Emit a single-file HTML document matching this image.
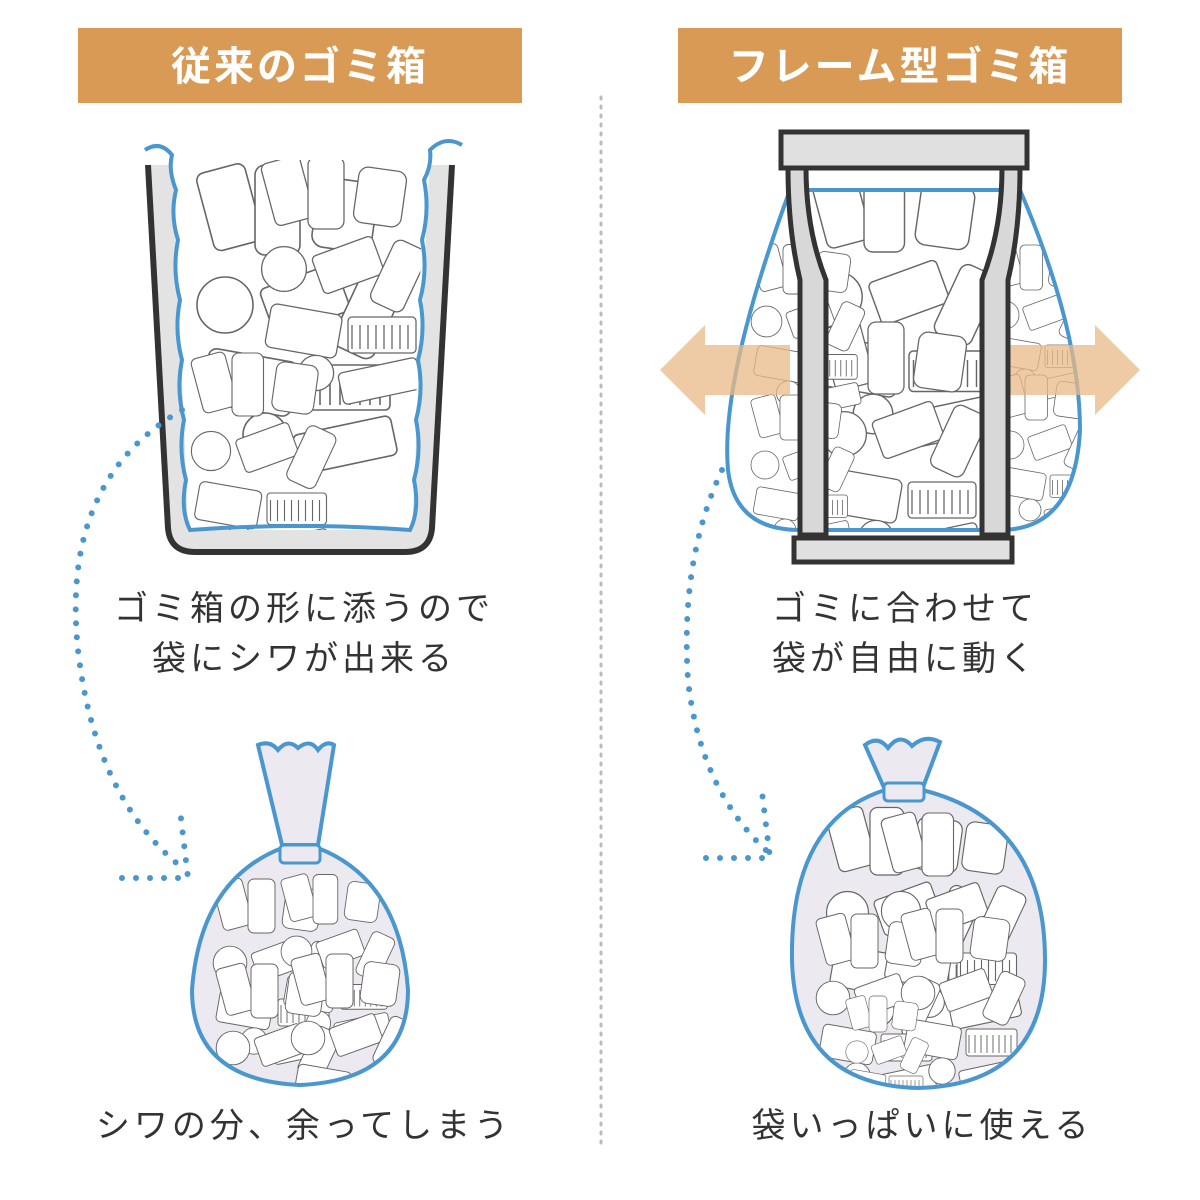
<!DOCTYPE html>
<html><head><meta charset="utf-8"><style>
html,body{margin:0;padding:0;background:#fff;}
svg{display:block;}
text{font-family:"Liberation Sans","Noto Sans CJK JP",sans-serif;}
</style></head><body>
<svg width="1200" height="1200" viewBox="0 0 1200 1200" xmlns="http://www.w3.org/2000/svg">
<defs>
<g id="trash" fill="#fff" stroke="#666" stroke-width="1.6">
  <rect x="0" y="0" width="50" height="80" rx="8" transform="rotate(-15)"/>
  <rect x="60" y="-10" width="45" height="90" rx="10"/>
  <rect x="120" y="5" width="60" height="70" rx="12" transform="rotate(8 150 40)"/>
  <circle cx="30" cy="130" r="28"/>
  <rect x="70" y="100" width="80" height="50" rx="6" transform="rotate(-20 110 125)"/>
  <rect x="150" y="95" width="45" height="85" rx="10" transform="rotate(25 170 140)"/>
  <rect x="10" y="180" width="90" height="55" rx="8" transform="rotate(10 55 205)"/>
  <rect x="110" y="190" width="85" height="45" rx="5"/>
  <path d="M115 200 v30 M125 200 v30 M135 200 v30 M145 200 v30 M155 200 v30 M165 200 v30 M175 200 v30 M185 200 v30"/>
  <circle cx="70" cy="260" r="22"/>
  <rect x="100" y="250" width="100" height="40" rx="6" transform="rotate(-12 150 270)"/>
</g>
<clipPath id="cl1"><path d="M176 160 L188 530 L412 530 L424 160 Z"/></clipPath>
<clipPath id="cl2"><path d="M282 848 Q200 880 192 990 Q192 1080 300 1085 Q408 1080 408 990 Q400 880 318 848 Z"/></clipPath>
<clipPath id="cl3"><path d="M790 190 Q720 380 728 470 Q735 530 800 530 L1000 530 Q1075 530 1080 430 Q1080 330 1020 190 Z"/></clipPath>
<clipPath id="cl4"><path d="M885 790 Q790 820 792 960 Q795 1085 918 1088 Q1045 1085 1045 960 Q1045 820 922 790 Z"/></clipPath>
</defs>

<rect x="78" y="28" width="444" height="75" fill="#D99A55"/>
<text x="300" y="80" font-size="40" font-weight="bold" fill="#fff" text-anchor="middle" letter-spacing="3">従来のゴミ箱</text>
<rect x="678" y="28" width="444" height="75" fill="#D99A55"/>
<text x="900" y="80" font-size="40" font-weight="bold" fill="#fff" text-anchor="middle" letter-spacing="3">フレーム型ゴミ箱</text>

<line x1="601" y1="97" x2="601" y2="1145" stroke="#bbb" stroke-width="3" stroke-dasharray="2 7" stroke-linecap="round"/>

<!-- left bin -->
<path d="M148 165 L168 528 Q170 552 195 552 L405 552 Q430 552 432 528 L452 165" fill="#e3e3e3" stroke="#333" stroke-width="6"/>
<path d="M172 155 L178 300 L184 420 L188 530 L412 530 L418 400 L424 280 L430 150 Z" fill="#fff"/>
<g clip-path="url(#cl1)">
<g transform="translate(195 175)"><use href="#trash"/></g>
<g transform="translate(260 165) scale(0.8)"><use href="#trash"/></g>
<g transform="translate(190 360) scale(0.7)"><use href="#trash"/></g>
</g>
<path d="M145 150 Q160 140 172 155 Q168 170 176 190 Q170 215 178 240 Q172 270 180 300 Q174 330 182 360 Q176 390 184 420 Q178 450 186 480 Q180 510 190 530 Q300 522 410 530 Q420 510 414 480 Q422 450 416 420 Q424 390 418 360 Q426 330 420 300 Q428 270 422 240 Q430 210 424 180 Q432 165 430 150 Q445 135 462 145" fill="none" stroke="#4a97cf" stroke-width="4"/>

<text x="304" y="620" font-size="34" fill="#333" text-anchor="middle" letter-spacing="4">ゴミ箱の形に添うので</text>
<text x="304" y="670" font-size="34" fill="#333" text-anchor="middle" letter-spacing="4">袋にシワが出来る</text>

<path d="M182 410 Q60 480 78 650 Q95 800 185 870" fill="none" stroke="#4a97cf" stroke-width="6" stroke-dasharray="0 14" stroke-linecap="round"/>
<path d="M122 878 L188 878 L180 810" fill="none" stroke="#4a97cf" stroke-width="6" stroke-dasharray="0 14" stroke-linecap="round"/>

<!-- left bag -->
<path d="M258 745 Q270 740 278 750 Q288 738 298 748 Q310 738 318 750 Q326 740 334 745 L318 845 L282 845 Z" fill="#ece9f0" stroke="#4a97cf" stroke-width="4"/>
<path d="M282 848 Q200 880 192 990 Q192 1080 300 1085 Q408 1080 408 990 Q400 880 318 848 Z" fill="#ece9f0"/>
<g clip-path="url(#cl2)">
<g transform="translate(212 885) scale(0.6)"><use href="#trash"/></g>
<g transform="translate(280 880) scale(0.55)"><use href="#trash"/></g>
<g transform="translate(215 970) scale(0.6)"><use href="#trash"/></g>
<g transform="translate(290 960) scale(0.6)"><use href="#trash"/></g>
</g>
<path d="M282 848 Q200 880 192 990 Q192 1080 300 1085 Q408 1080 408 990 Q400 880 318 848 Z" fill="none" stroke="#4a97cf" stroke-width="4"/>
<rect x="280" y="845" width="40" height="18" rx="4" fill="#ece9f0" stroke="#4a97cf" stroke-width="3"/>
<text x="304" y="1137" font-size="34" fill="#333" text-anchor="middle" letter-spacing="4">シワの分、余ってしまう</text>

<!-- right bin -->
<path d="M790 190 Q720 380 728 470 Q735 530 800 530 L1000 530 Q1075 530 1080 430 Q1080 330 1020 190 Z" fill="#fff"/>
<g clip-path="url(#cl3)">
<g transform="translate(810 180) scale(0.9)"><use href="#trash"/></g>
<g transform="translate(820 330) scale(0.8)"><use href="#trash"/></g>
<g transform="translate(750 250) scale(0.55)"><use href="#trash"/></g>
<g transform="translate(990 250) scale(0.5)"><use href="#trash"/></g>
<g transform="translate(750 400) scale(0.5)"><use href="#trash"/></g>
<g transform="translate(995 380) scale(0.5)"><use href="#trash"/></g>
</g>
<path d="M790 190 Q720 380 728 470 Q735 530 800 530 L1000 530 Q1075 530 1080 430 Q1080 330 1020 190 Z" fill="none" stroke="#4a97cf" stroke-width="4"/>
<path d="M660 370 L705 325 L705 345 L790 345 L790 395 L705 395 L705 415 Z" fill="#e8b985" opacity="0.75"/>
<path d="M1140 370 L1095 325 L1095 345 L1010 345 L1010 395 L1095 395 L1095 415 Z" fill="#e8b985" opacity="0.75"/>
<path d="M788 168 L806 168 Q806 230 826 280 L826 535 L800 535 L800 280 Q788 230 788 168 Z" fill="#d8d8d8" stroke="#333" stroke-width="5"/>
<path d="M1020 168 L1002 168 Q1002 230 982 280 L982 535 L1008 535 L1008 280 Q1020 230 1020 168 Z" fill="#d8d8d8" stroke="#333" stroke-width="5"/>
<rect x="781" y="132" width="246" height="36" fill="#e0e0e0" stroke="#333" stroke-width="5"/>
<rect x="794" y="538" width="218" height="24" fill="#e0e0e0" stroke="#333" stroke-width="5"/>

<text x="905" y="620" font-size="34" fill="#333" text-anchor="middle" letter-spacing="4">ゴミに合わせて</text>
<text x="905" y="670" font-size="34" fill="#333" text-anchor="middle" letter-spacing="4">袋が自由に動く</text>

<path d="M722 470 Q680 560 688 680 Q700 790 768 852" fill="none" stroke="#4a97cf" stroke-width="6" stroke-dasharray="0 14" stroke-linecap="round"/>
<path d="M706 858 L770 858 L762 792" fill="none" stroke="#4a97cf" stroke-width="6" stroke-dasharray="0 14" stroke-linecap="round"/>

<!-- right bag -->
<path d="M865 745 Q878 735 888 748 Q900 732 912 746 Q925 734 940 742 L922 790 L885 790 Z" fill="#ece9f0" stroke="#4a97cf" stroke-width="4"/>
<path d="M885 790 Q790 820 792 960 Q795 1085 918 1088 Q1045 1085 1045 960 Q1045 820 922 790 Z" fill="#ece9f0"/>
<g clip-path="url(#cl4)">
<g transform="translate(825 815) scale(0.75)"><use href="#trash"/></g>
<g transform="translate(880 820) scale(0.7)"><use href="#trash"/></g>
<g transform="translate(815 920) scale(0.6)"><use href="#trash"/></g>
<g transform="translate(900 915) scale(0.6)"><use href="#trash"/></g>
<g transform="translate(845 1000) scale(0.4)"><use href="#trash"/></g>
</g>
<path d="M885 790 Q790 820 792 960 Q795 1085 918 1088 Q1045 1085 1045 960 Q1045 820 922 790 Z" fill="none" stroke="#4a97cf" stroke-width="4"/>
<rect x="884" y="783" width="40" height="18" rx="4" fill="#ece9f0" stroke="#4a97cf" stroke-width="3"/>
<text x="922" y="1137" font-size="34" fill="#333" text-anchor="middle" letter-spacing="4">袋いっぱいに使える</text>
</svg>
</body></html>
